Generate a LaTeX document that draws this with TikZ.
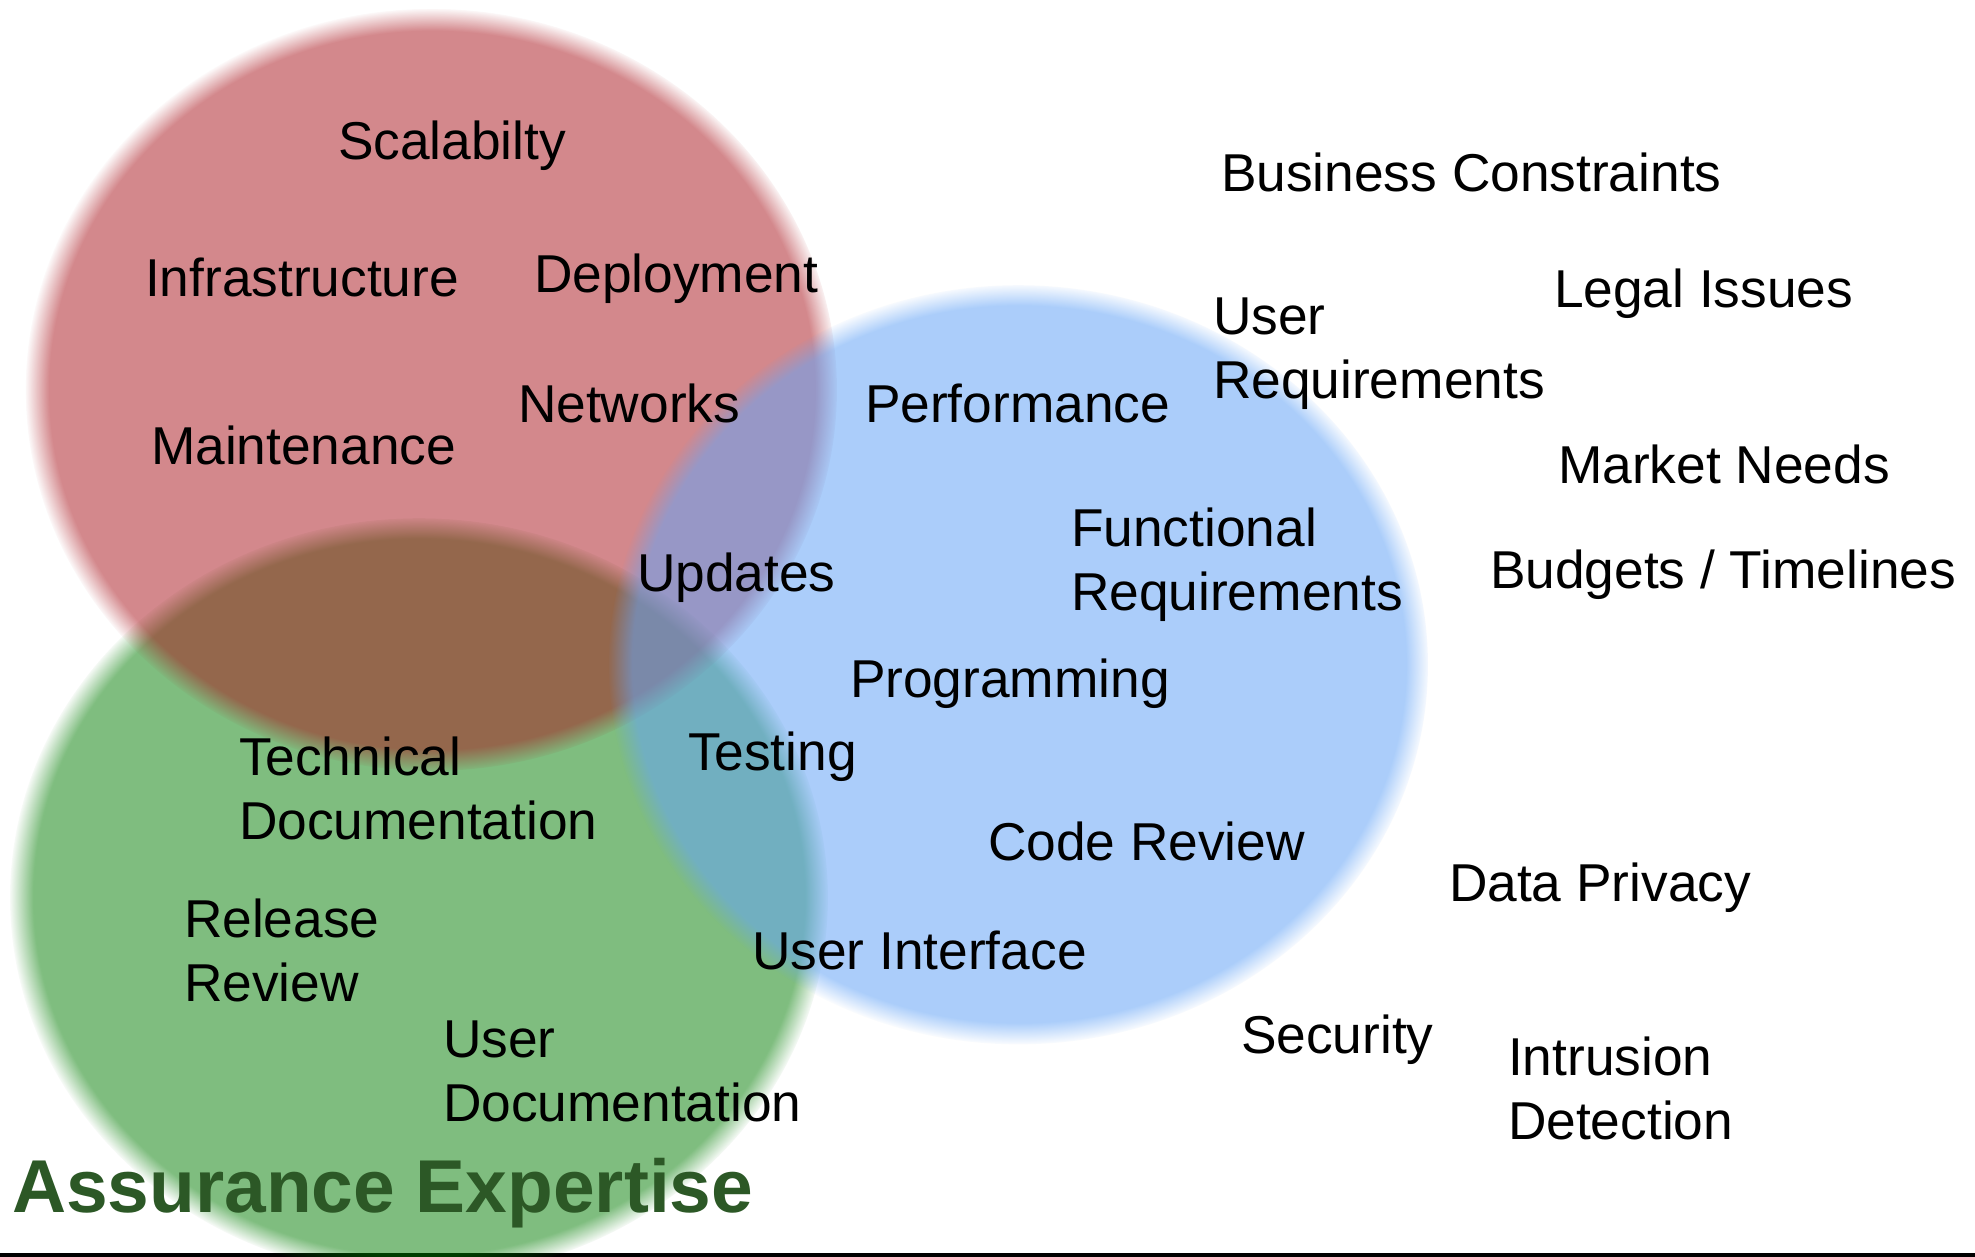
\documentclass[tikz,border=0pt]{standalone}
\usepackage{fontspec}
\setmainfont{Liberation Sans}
\usetikzlibrary{fadings}
\definecolor{cred}{RGB}{169,19,27}
\definecolor{cgreen}{RGB}{0,125,0}
\definecolor{cblue}{RGB}{102,165,247}
\definecolor{cdark}{RGB}{44,88,38}
\pgfdeclareradialshading{fuzzyshade}{\pgfpointorigin}{color(0bp)=(white); color(23.5bp)=(white); color(25bp)=(black); color(50bp)=(black)}
\pgfdeclarefading{fuzzyedge}{\pgfuseshading{fuzzyshade}}
\tikzset{
  lbl/.style={inner sep=0pt, outer sep=0pt, text=black, font=\fontsize{53.3}{64}\selectfont},
  lbl2/.style={lbl, align=left, anchor=north west},
  blob/.style={path fading=fuzzyedge, fill opacity=#1},
}
\begin{document}
\begin{tikzpicture}[x=1pt,y=-1pt]
\useasboundingbox (0,0) rectangle (1975,1257);
\clip (0,0) rectangle (1975,1257);
\fill[white] (0,0) rectangle (1975,1257);
% bottom rule
\fill[black] (0,1253) rectangle (1975,1257);
% circles
\fill[cgreen, blob=0.5] (419,897) ellipse [x radius=409, y radius=380];
\fill[cred, blob=0.5] (432,390) ellipse [x radius=406, y radius=381];
\fill[cblue, blob=0.55] (1019,664) ellipse [x radius=410, y radius=380];
% labels
\node[lbl, anchor=base west] (scal) at (338,160) {Scalabilty};
\node[lbl, anchor=base west] (infra) at (145,297) {Infrastructure};
\node[lbl, anchor=base west] (depl) at (534,292) {Deployment};
\node[lbl, anchor=base west] (netw) at (518,422) {Networks};
\node[lbl, anchor=base west] (maint) at (151,464) {Maintenance};
\node[lbl, anchor=base west] (perf) at (865,422) {Performance};
\node[lbl2] (ureq) at (1213,298) {User\\Requirements};
\node[lbl, anchor=base west] (busc) at (1221,192) {Business Constraints};
\node[lbl, anchor=base west] (legal) at (1554,307) {Legal Issues};
\node[lbl, anchor=base west] (market) at (1558,483) {Market Needs};
\node[lbl, anchor=base west] (budget) at (1490,588) {Budgets / Timelines};
\node[lbl, anchor=base west] (upd) at (637,591) {Updates};
\node[lbl2] (freq) at (1071,508) {Functional\\Requirements};
\node[lbl, anchor=base west] (prog) at (850,697) {Programming};
\node[lbl2] (tdoc) at (239,737) {Technical\\Documentation};
\node[lbl, anchor=base west] (test) at (688,770) {Testing};
\node[lbl, anchor=base west] (code) at (988,860) {Code Review};
\node[lbl, anchor=base west] (priv) at (1449,901) {Data Privacy};
\node[lbl2] (rel) at (184,899) {Release\\Review};
\node[lbl, anchor=base west] (ui) at (752,969) {User Interface};
\node[lbl, anchor=base west] (sec) at (1241,1053) {Security};
\node[lbl2] (intr) at (1508,1037) {Intrusion\\Detection};
\node[lbl2] (udoc) at (443,1021) {User\\Documentation};
\node[inner sep=0pt, anchor=base west, text=cdark, font=\fontsize{74.9}{90}\selectfont\bfseries] (title) at (12,1212) {Assurance Expertise};
\end{tikzpicture}
\end{document}
